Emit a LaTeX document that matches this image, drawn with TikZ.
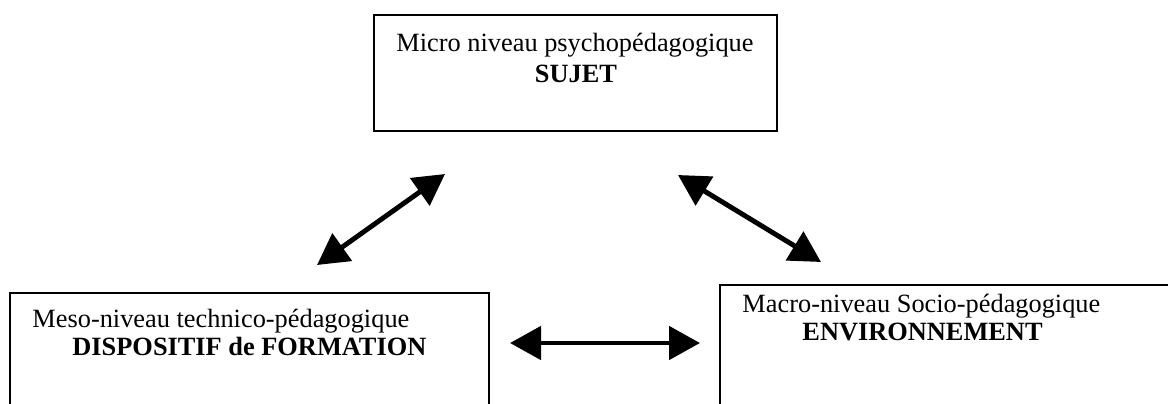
\documentclass[tikz,border=0pt]{standalone}
\usepackage{fontspec}
\setmainfont{Liberation Serif}
\usepackage{tikz}
\usetikzlibrary{arrows.meta}
\tikzset{
	level/.style    = {draw, line width=1.1pt, rectangle, inner sep=0pt},
	lvltext/.style  = {inner sep=0pt, font=\fontsize{15}{18}\selectfont},
	lvlhead/.style  = {inner sep=0pt, font=\fontsize{15}{18}\selectfont\bfseries},
}
\begin{document}
\begin{tikzpicture}[ x=0.02cm, y=-0.02cm,            %<--one unit is one pixel, y down
                       line width=2.8pt,               %<--setting line style
                       >={Triangle[length=0.62cm, width=0.66cm]} ] %<--sets the arrowtype
    \useasboundingbox (0,0) rectangle (1168,403);

    \draw%-----------------------------------------------------------------------------------------
    	%Drawing the Level Boxes:
    	node(micro) at (575.5,73) [level, minimum width=8.06cm, minimum height=2.32cm] {}
    	node(meso)  at (249.5,354) [level, minimum width=9.58cm, minimum height=2.44cm] {}
    	node(macro) at (950,345.5) [level, minimum width=9.2cm, minimum height=2.41cm] {}
    	%Drawing the Texts:
    	node(microTxt) at (575,51) [lvltext, anchor=base] {Micro niveau psychopédagogique}
    	node(microSub) at (576,82) [lvlhead, anchor=base] {SUJET}
    	node(mesoTxt)  at (30,327) [lvltext, anchor=base west] {Meso-niveau technico-pédagogique}
    	node(mesoSub)  at (70,355) [lvlhead, anchor=base west] {DISPOSITIF de FORMATION}
    	node(macroTxt) at (740,312) [lvltext, anchor=base west] {Macro-niveau Socio-pédagogique}
    	node(macroSub) at (800,340) [lvlhead, anchor=base west] {ENVIRONNEMENT}
    	%Drawing the Arrow Ends:
    	node[shape=coordinate][](microL) at (445,174){}
    	node[shape=coordinate][](mesoUp) at (317,265){}
    	node[shape=coordinate][](microR) at (678,175){}
    	node[shape=coordinate][](macroUp) at (821,262){}
    	node[shape=coordinate][](mesoR) at (510,343){}
    	node[shape=coordinate][](macroL) at (700,343){}
    ;%---------------------------------------------------------------------------------------------

    %Joining the Levels
  	\draw[<->] (mesoUp) -- (microL);
  	\draw[<->] (microR) -- (macroUp);
  	\draw[<->] (mesoR) -- (macroL);
\end{tikzpicture}
\end{document}
